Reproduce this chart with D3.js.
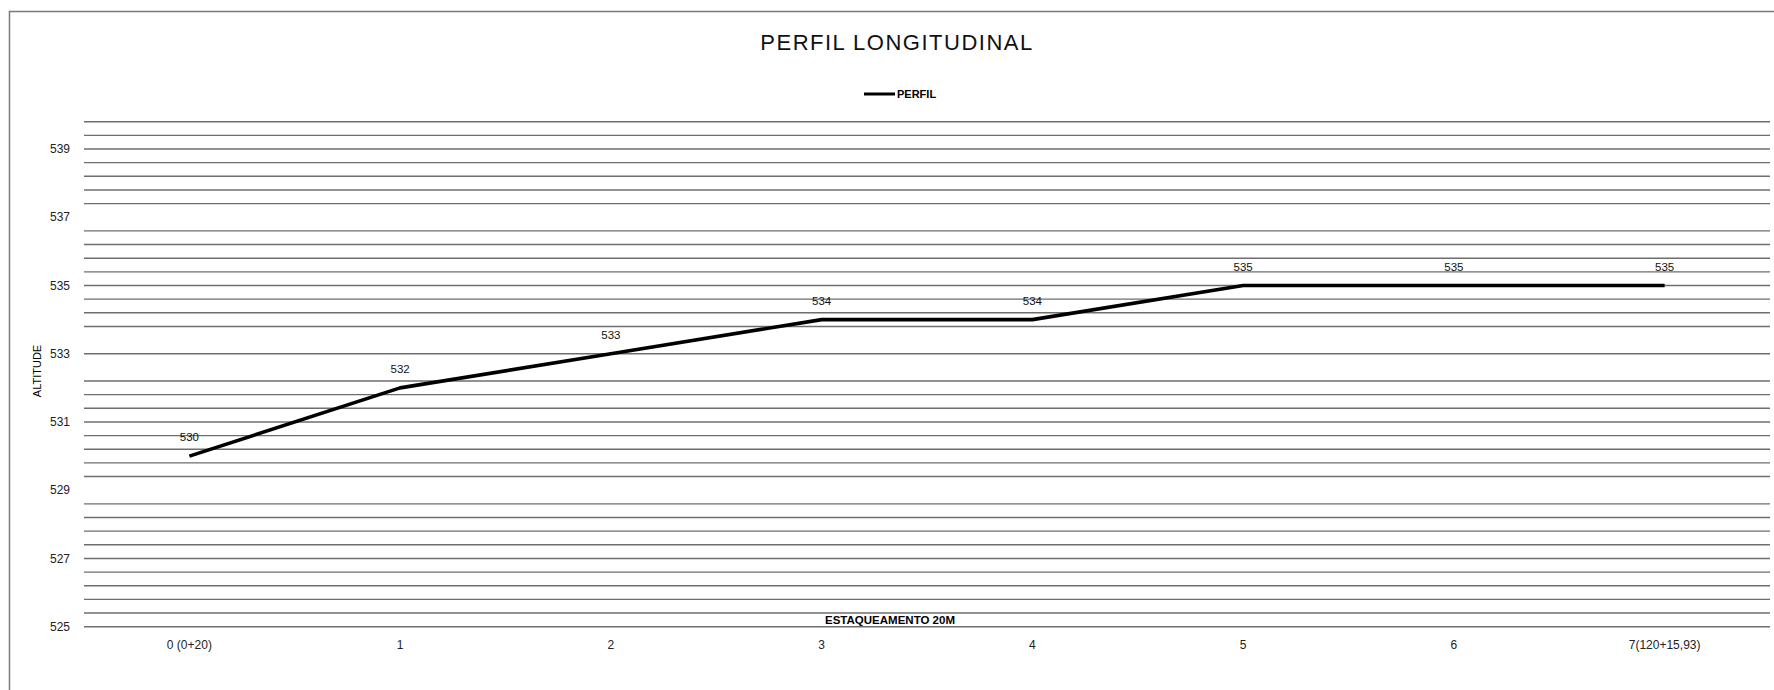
<!DOCTYPE html>
<html>
<head>
<meta charset="utf-8">
<script src="https://cdnjs.cloudflare.com/ajax/libs/d3/7.8.5/d3.min.js"></script>
<style>
	html, body { margin: 0; padding: 0; background: #fff; }
	svg { display: block; font-family: "Liberation Sans", Arial, sans-serif; }
	.grid line { stroke: #6e6e6e; stroke-width: 1.4px; }
	.tick-label { font-size: 12px; fill: #222; }
	.data-label { font-size: 11.5px; fill: #111; }
</style>
</head>
<body>
<svg id="chart" width="1774" height="690"></svg>
<script>
;(function() {
	"use strict";

	// Stations (estacas) and their altitudes
	var categories = ["0 (0+20)", "1", "2", "3", "4", "5", "6", "7(120+15,93)"];
	var altitudes = [530, 532, 533, 534, 534, 535, 535, 535];
	var dataLabels = ["530", "532", "533", "534", "534", "535", "535", "535"];

	// Axis labels and gridlines
	var yTicks = [525, 527, 529, 531, 533, 535, 537, 539];
	var gridStep = 0.4;
	var gridMissing = [529, 532.6, 533.4, 537]; // lines that do not show in the original

	var width = 1774, height = 690,
		plotLeft = 84, plotRight = 1770,
		plotTop = 121.7, plotBottom = 626.7;

	var svg = d3.select("#chart");

	var x = d3.scaleBand()
		.domain(d3.range(categories.length))
		.range([plotLeft, plotRight])
		.paddingInner(0).paddingOuter(0);

	var y = d3.scaleLinear()
		.domain([525, 539.8])
		.range([plotBottom, plotTop]);

	// Outer chart frame
	svg.append("rect")
		.attr("x", 9.5).attr("y", 11.5)
		.attr("width", width + 20).attr("height", height + 20)
		.attr("fill", "none")
		.attr("stroke", "#7a7a7a")
		.attr("stroke-width", 1.5);

	// Horizontal gridlines
	var gridValues = d3.range(0, 38).map(function(k) { return +(525 + k * gridStep).toFixed(1); })
		.filter(function(v) { return gridMissing.indexOf(v) < 0; });

	svg.append("g").attr("class", "grid")
		.selectAll("line").data(gridValues)
		.enter().append("line")
			.attr("x1", plotLeft).attr("x2", plotRight)
			.attr("y1", function(d) { return y(d); })
			.attr("y2", function(d) { return y(d); });

	// Y axis labels
	svg.append("g")
		.selectAll("text").data(yTicks)
		.enter().append("text")
			.attr("class", "tick-label")
			.attr("x", 70)
			.attr("y", function(d) { return y(d); })
			.attr("dy", ".35em")
			.attr("text-anchor", "end")
			.text(function(d) { return d; });

	// X axis labels
	svg.append("g")
		.selectAll("text").data(categories)
		.enter().append("text")
			.attr("class", "tick-label")
			.attr("x", function(d, i) { return x(i) + x.bandwidth() / 2; })
			.attr("y", 645)
			.attr("dy", ".35em")
			.attr("text-anchor", "middle")
			.text(function(d) { return d; });

	// Profile line
	var line = d3.line()
		.x(function(d, i) { return x(i) + x.bandwidth() / 2; })
		.y(function(d) { return y(d); });

	svg.append("path")
		.datum(altitudes)
		.attr("d", line)
		.attr("fill", "none")
		.attr("stroke", "#000")
		.attr("stroke-width", 3.6)
		.attr("stroke-linejoin", "round");

	// Data labels above each point
	svg.append("g")
		.selectAll("text").data(altitudes)
		.enter().append("text")
			.attr("class", "data-label")
			.attr("x", function(d, i) { return x(i) + x.bandwidth() / 2; })
			.attr("y", function(d) { return y(d) - 19; })
			.attr("dy", ".35em")
			.attr("text-anchor", "middle")
			.text(function(d, i) { return dataLabels[i]; });

	// Title
	svg.append("text")
		.attr("x", 897).attr("y", 50)
		.attr("text-anchor", "middle")
		.style("font-size", "22px")
		.style("letter-spacing", "1.5px")
		.style("fill", "#111")
		.text("PERFIL LONGITUDINAL");

	// Legend
	var legend = svg.append("g").attr("class", "legend");
	legend.append("line")
		.attr("x1", 864).attr("x2", 895)
		.attr("y1", 94).attr("y2", 94)
		.attr("stroke", "#000").attr("stroke-width", 3);
	legend.append("text")
		.attr("x", 897).attr("y", 94)
		.attr("dy", ".35em")
		.style("font-size", "11px")
		.style("font-weight", "bold")
		.text("PERFIL");

	// Axis titles
	svg.append("text")
		.attr("transform", "translate(41," + 371 + ") rotate(-90)")
		.attr("text-anchor", "middle")
		.style("font-size", "11px")
		.text("ALTITUDE");

	svg.append("text")
		.attr("x", 890).attr("y", 620)
		.attr("dy", ".35em")
		.attr("text-anchor", "middle")
		.style("font-size", "11.5px")
		.style("font-weight", "bold")
		.text("ESTAQUEAMENTO 20M");
})();
</script>
</body>
</html>
